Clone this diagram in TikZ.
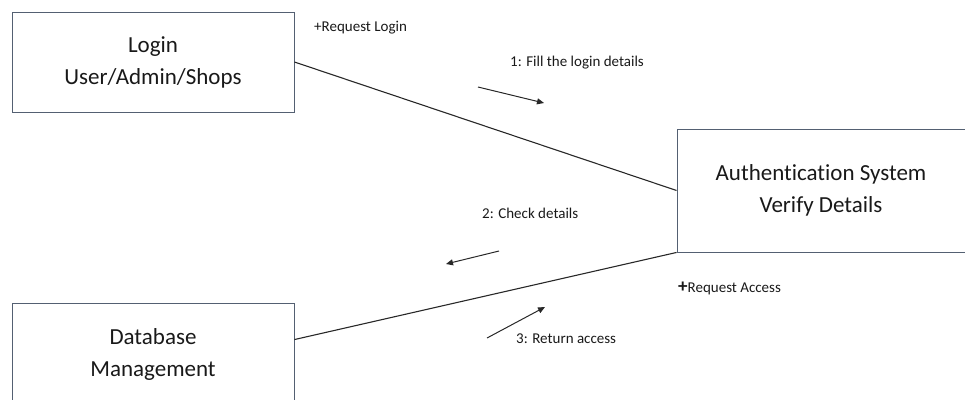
\documentclass[tikz,border=0pt]{standalone}
\usepackage{fontspec}
\setmainfont{Carlito}[Ligatures={NoCommon}]
\usetikzlibrary{arrows.meta,calc}
\definecolor{boxline}{RGB}{84,96,114}
\definecolor{wire}{RGB}{40,40,40}
\begin{document}
\begin{tikzpicture}[x=1pt,y=-1pt,
  objbox/.style={draw=boxline,line width=0.9pt,rectangle,align=center,
    inner sep=0pt,font=\fontsize{23}{32}\selectfont,text=black!90},
  link/.style={draw=wire,line width=1.1pt},
  msg/.style={draw=wire,line width=1pt,-{Triangle[length=7pt,width=6pt]}},
  lbl/.style={font=\fontsize{15}{18}\selectfont,text=black!90,anchor=west,inner sep=0pt}]
\useasboundingbox (0,0) rectangle (965,399);
\clip (0,0) rectangle (965,399);
% objects
\node[objbox,minimum width=282pt,minimum height=100pt] (login) at (153,62)
  {Login\\User/Admin/Shops};
\node[objbox,minimum width=296pt,minimum height=123pt] (auth) at (825,190.5)
  {\hspace*{-8pt}Authentication System\\\hspace*{-8pt}Verify Details};
\node[objbox,minimum width=282pt,minimum height=102pt] (db) at (153,354)
  {Database\\Management};
% links
\coordinate (dbport) at ($(db.north east)+(0,37)$);
\draw[link] (login.east) -- (auth.west);
\draw[link] (dbport) -- (auth.south west);
% role labels
\node[lbl] (rlogin) at (314,28) {+Request Login};
\node[lbl] (raccess) at (678,288) {{\fontsize{19}{18}\selectfont\bfseries+}Request Access};
% messages
\coordinate (m1a) at (478,87);  \coordinate (m1b) at (544,103);
\coordinate (m2a) at (499,251); \coordinate (m2b) at (446,264);
\coordinate (m3a) at (487,338); \coordinate (m3b) at (545,307);
\draw[msg] (m1a) -- (m1b);
\draw[msg] (m2a) -- (m2b);
\draw[msg] (m3a) -- (m3b);
\node[lbl] (l1) at (510,63) {1: Fill the login details};
\node[lbl] (l2) at (482,213) {2: Check details};
\node[lbl] (l3) at (516,339) {3: Return access};
\end{tikzpicture}
\end{document}
